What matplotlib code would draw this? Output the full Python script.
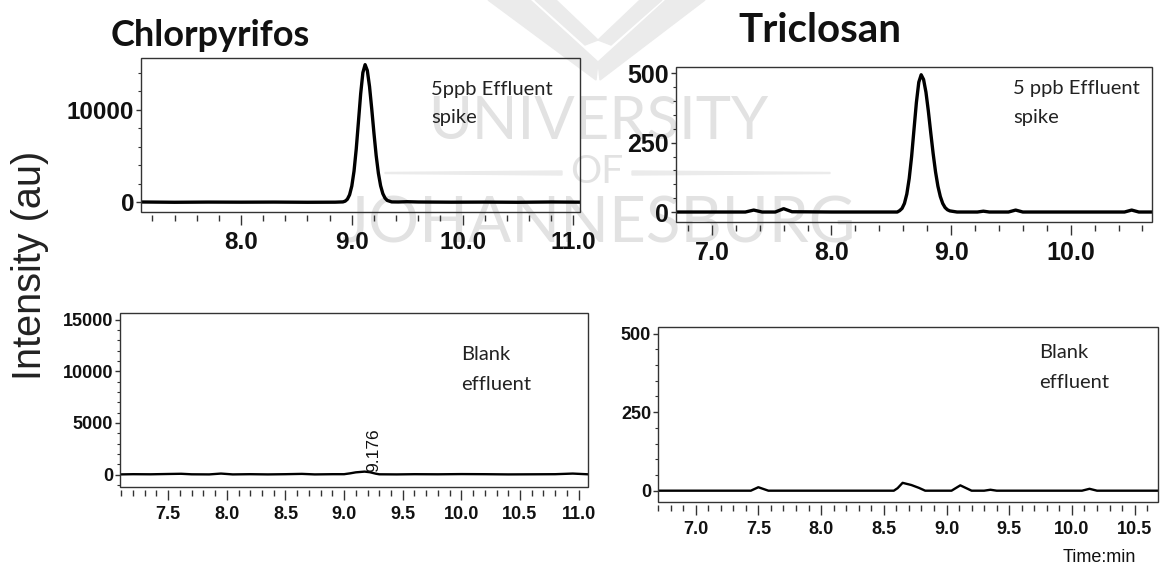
import matplotlib
matplotlib.use("Agg")
import matplotlib.pyplot as plt
from matplotlib.ticker import MultipleLocator
from matplotlib.patches import Rectangle, Polygon

W, H = 1165, 567

# ---- values (time: min, intensity: au) ----
# Chlorpyrifos, 5 ppb effluent spike
cp_spike_t = [7.10, 7.40, 7.70, 8.00, 8.30, 8.60, 8.85, 8.92, 8.94, 8.96, 8.98,
              9.00, 9.02, 9.04, 9.06, 9.08, 9.10, 9.12, 9.14, 9.16, 9.18, 9.20,
              9.22, 9.24, 9.26, 9.28, 9.30, 9.32, 9.36, 9.42, 9.50, 9.60, 9.90,
              10.20, 10.50, 10.80, 11.06]
cp_spike_i = [30, 0, 20, 10, 20, 0, 10, 40, 120, 330, 810,
              1755, 3370, 5760, 8730, 11740, 14040, 14900, 14270, 12530, 10100, 7470,
              5050, 3140, 1790, 935, 450, 197, 40, 30, 60, 30, 10,
              20, 0, 30, 10]

# Chlorpyrifos, blank effluent
cp_blank_t = [7.09, 7.20, 7.35, 7.50, 7.61, 7.70, 7.85, 7.95, 8.05, 8.20, 8.35,
              8.50, 8.64, 8.75, 8.90, 9.00, 9.05, 9.10, 9.175, 9.22, 9.27, 9.30,
              9.45, 9.60, 9.80, 10.00, 10.20, 10.40, 10.60, 10.80, 10.95, 11.08]
cp_blank_i = [20, 40, 30, 60, 80, 30, 20, 100, 20, 40, 20,
              40, 70, 20, 40, 40, 120, 220, 290, 230, 90, 30,
              20, 40, 30, 50, 40, 20, 30, 40, 100, 30]

# Triclosan, 5 ppb effluent spike
tc_spike_t = [6.70, 7.28, 7.35, 7.42, 7.53, 7.60, 7.67, 8.00, 8.40, 8.55, 8.57,
              8.59, 8.61, 8.63, 8.65, 8.67, 8.69, 8.71, 8.73, 8.75, 8.77, 8.79,
              8.81, 8.83, 8.85, 8.87, 8.89, 8.91, 8.93, 8.95, 8.97, 8.99, 9.05,
              9.22, 9.27, 9.32, 9.48, 9.54, 9.60, 10.45, 10.51, 10.57, 10.68]
tc_spike_i = [0, 0, 7, 0, 0, 12, 1, 0, 0, 0, 5,
              13, 31, 65, 121, 200, 298, 395, 468, 495, 478, 432,
              364, 286, 211, 145, 93, 56, 31, 16, 8, 4, 0,
              0, 3, 0, 0, 7, 0, 0, 7, 0, 0]

# Triclosan, blank effluent
tc_blank_t = [6.70, 7.44, 7.50, 7.58, 8.58, 8.61, 8.65, 8.72, 8.78, 8.83, 9.04,
              9.11, 9.20, 9.30, 9.35, 9.40, 10.08, 10.14, 10.20, 10.69]
tc_blank_i = [0, 0, 11, 0, 0, 8, 25, 18, 9, 0, 0,
              17, 0, 0, 3, 0, 0, 6, 0, 0]

fig = plt.figure(figsize=(W / 100, H / 100), dpi=100)


def fx(px):
    return px / W


def fy(py):
    return 1 - py / H


def rect(left, top, right, bottom):
    return [fx(left), fy(bottom), (right - left) / W, (bottom - top) / H]


def panel(box, t, y, xlim, ylim, xticks, xminor, yticks, yminor, fs, lw):
    ax = fig.add_axes(box)
    ax.set_facecolor("none")
    ax.plot(t, y, color="black", lw=lw, solid_joinstyle="round", zorder=3)
    ax.set_xlim(xlim)
    ax.set_ylim(ylim)
    for s in ax.spines.values():
        s.set_visible(False)
    # ticks of the time axis hang a little below the frame
    ax.spines["bottom"].set_position(("outward", 2.5))
    ax.add_patch(Rectangle((0, 0), 1, 1, transform=ax.transAxes, fill=False,
                           lw=1.0, ec="#333333", clip_on=False, zorder=4))
    ax.set_xticks(xticks)
    ax.set_xticklabels(["%.1f" % v for v in xticks], fontweight="bold",
                       fontsize=fs, family="Liberation Sans", color="#111111")
    ax.set_yticks(yticks)
    ax.set_yticklabels(["%d" % v for v in yticks], fontweight="bold",
                       fontsize=fs, family="Liberation Sans", color="#111111")
    ax.xaxis.set_minor_locator(MultipleLocator(xminor))
    ax.yaxis.set_minor_locator(MultipleLocator(yminor))
    ax.tick_params(axis="x", which="major", direction="out", length=7.5,
                   width=1, pad=4, color="#333333")
    ax.tick_params(axis="x", which="minor", direction="out", length=4,
                   width=1, color="#333333")
    ax.tick_params(axis="y", which="major", direction="out", length=3.5,
                   width=1, pad=1.5, color="#333333")
    ax.tick_params(axis="y", which="minor", direction="out", length=2.2,
                   width=0.8, color="#333333")
    return ax


# faint university watermark behind the plots
wm = "#e2e2e2"
fig.text(fx(598), fy(122), "UNIVERSITY", ha="center", va="center", fontsize=43,
         family="Lato", color=wm, zorder=-2)
fig.text(fx(597), fy(172), "OF", ha="center", va="center", fontsize=28,
         family="Lato", color=wm, zorder=-2)
fig.text(fx(598), fy(225), "JOHANNESBURG", ha="center", va="center", fontsize=46,
         family="Lato", color=wm, zorder=-2)
wl = "#ebebeb"
fig.add_artist(Polygon([(fx(385), fy(172.5)), (fx(562), fy(171)), (fx(562), fy(175)),
                        (fx(385), fy(173.5))], closed=True, color=wl, zorder=-3))
fig.add_artist(Polygon([(fx(632), fy(171)), (fx(830), fy(172.5)), (fx(830), fy(173.5)),
                        (fx(632), fy(175))], closed=True, color=wl, zorder=-3))
fig.add_artist(Polygon([(fx(488), fy(0)), (fx(530), fy(0)), (fx(598), fy(62)),
                        (fx(596), fy(80))], closed=True, color=wl, zorder=-3))
fig.add_artist(Polygon([(fx(705), fy(0)), (fx(666), fy(0)), (fx(598), fy(62)),
                        (fx(600), fy(80))], closed=True, color=wl, zorder=-3))
fig.add_artist(Polygon([(fx(535), fy(0)), (fx(556), fy(0)), (fx(598), fy(40)),
                        (fx(585), fy(45))], closed=True, color=wl, zorder=-3))
fig.add_artist(Polygon([(fx(662), fy(0)), (fx(640), fy(0)), (fx(598), fy(40)),
                        (fx(611), fy(45))], closed=True, color=wl, zorder=-3))

ax1 = panel(rect(141, 58, 580, 212), cp_spike_t, cp_spike_i,
            (7.097, 11.06), (-1054, 15620), [8.0, 9.0, 10.0, 11.0], 0.2,
            [0, 10000], 2000, 17.5, 2.4)
ax2 = panel(rect(676, 67, 1152, 222), tc_spike_t, tc_spike_i,
            (6.70, 10.68), (-36, 523), [7.0, 8.0, 9.0, 10.0], 0.2,
            [0, 250, 500], 50, 18, 2.4)
ax3 = panel(rect(120, 313, 588, 487), cp_blank_t, cp_blank_i,
            (7.089, 11.08), (-1200, 15650), [7.5, 8.0, 8.5, 9.0, 9.5, 10.0, 10.5, 11.0],
            0.1, [0, 5000, 10000, 15000], 1000, 13, 1.7)
ax4 = panel(rect(658, 327, 1158, 502), tc_blank_t, tc_blank_i,
            (6.70, 10.686), (-36, 521), [7.0, 7.5, 8.0, 8.5, 9.0, 9.5, 10.0, 10.5],
            0.1, [0, 250, 500], 50, 13, 1.7)

# retention time label on the blank chlorpyrifos trace
ax3.text(9.25, 230, "9.176", rotation=90, ha="center", va="bottom",
         fontsize=12.5, family="Liberation Sans", color="#111111")

# titles and sample notes
fig.text(fx(210), fy(35), "Chlorpyrifos", ha="center", va="center",
         fontsize=26, fontweight="bold", family="Lato", color="#111111")
fig.text(fx(820), fy(31), "Triclosan", ha="center", va="center",
         fontsize=29, fontweight="bold", family="Lato", color="#111111")

notes = [(431, 90, "5ppb Effluent"), (431, 118, "spike"),
         (1013, 89, "5 ppb Effluent"), (1013, 118, "spike"),
         (461, 354, "Blank"), (461, 384, "effluent"),
         (1039, 352, "Blank"), (1039, 382, "effluent")]
for px, py, s in notes:
    fig.text(fx(px), fy(py), s, ha="left", va="center", fontsize=14.5,
             family="Lato", color="#222222")

fig.text(fx(30), fy(265), "Intensity (au)", rotation=90, ha="center",
         va="center", fontsize=28.5, family="Liberation Sans", color="#222222")
fig.text(fx(1099), fy(557), "Time:min", ha="center", va="center",
         fontsize=13, family="Liberation Sans", color="#111111")

fig.savefig("out.png", dpi=100, facecolor="white")
